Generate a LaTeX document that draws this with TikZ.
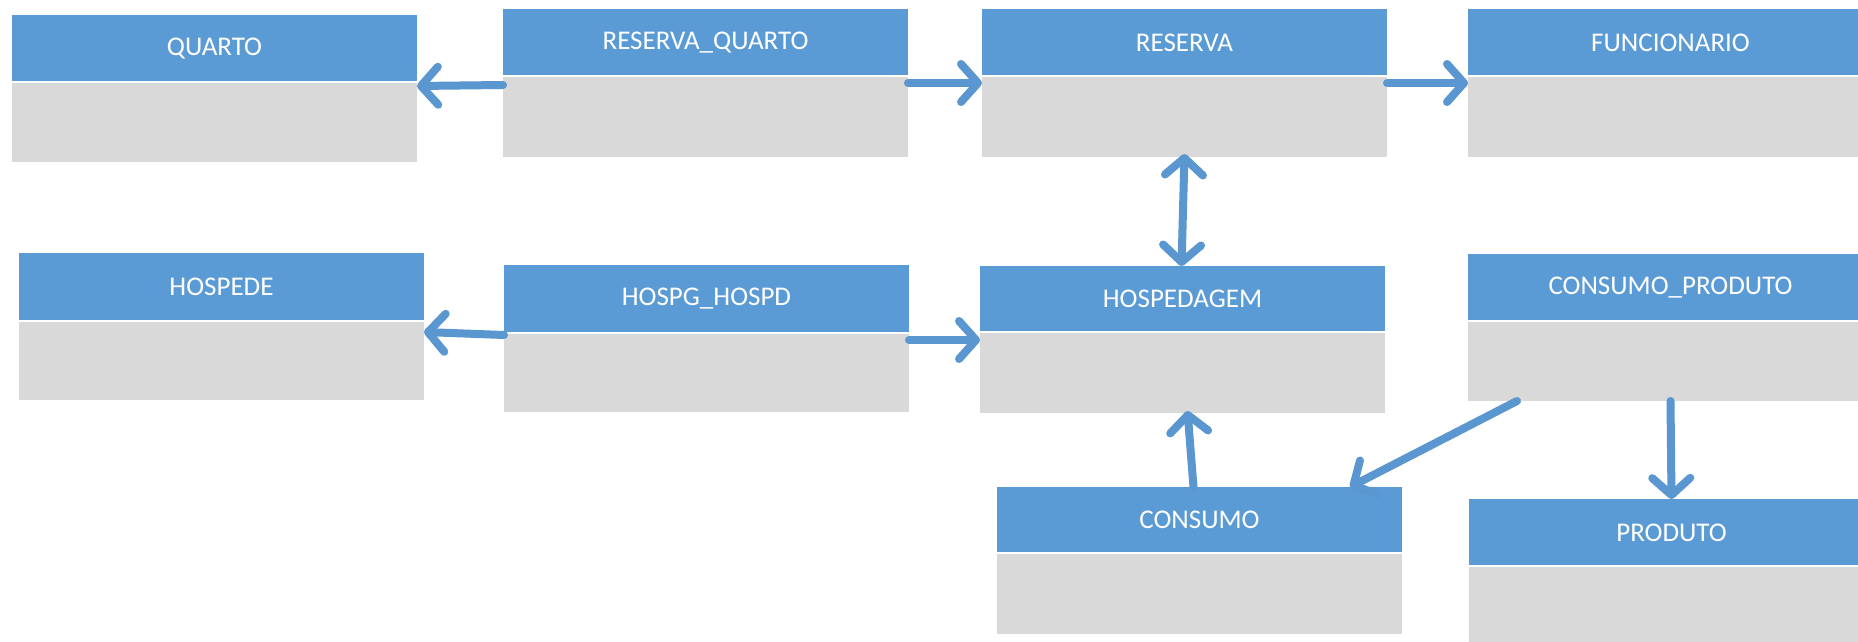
\documentclass[tikz,border=0pt]{standalone}
\usepackage{fontspec}
\setmainfont{Carlito}
\usetikzlibrary{arrows.meta}
\definecolor{hdr}{HTML}{5B9BD5}
\definecolor{bdy}{HTML}{D9D9D9}
\definecolor{arc}{HTML}{5A96D0}
\tikzset{
  tbl/.style={fill=bdy, draw=none, minimum width=405pt, anchor=north west, inner sep=0pt, outer sep=0pt},
  hdrbox/.style={fill=hdr, draw=none, minimum width=405pt, anchor=north west, inner sep=0pt, outer sep=0pt,
    text=white, font=\fontsize{27}{32}\selectfont},
  divline/.style={draw=white, line width=1.5pt},
  conn/.style={draw=arc, line width=8pt, line cap=round,
    -{Straight Barb[length=17pt,width=38pt,round]}},
  conn2/.style={draw=arc, line width=8pt, line cap=round,
    {Straight Barb[length=17pt,width=38pt,round]}-{Straight Barb[length=17pt,width=38pt,round]}},
}
% name, x left, y top, y divider, y bottom, label
\newcommand\tabela[6]{%
  \node[tbl, minimum height={#5-#3}] (#1) at (#2,#3) {};
  \node[hdrbox, minimum height={#4-#3}] (#1h) at (#2,#3) {#6};
  \draw[divline] (#1h.south west) -- (#1h.south east);
}
\begin{document}
\begin{tikzpicture}[x=1pt,y=-1pt]
\useasboundingbox (0,0) rectangle (1858,642);
\clip (0,0) rectangle (1858,642);
\fill[white] (0,0) rectangle (1858,642);

\tabela{quarto}{12}{15}{82}{162}{QUARTO}
\tabela{rq}{503}{9}{76}{157}{RESERVA\_QUARTO}
\tabela{reserva}{982}{9}{76}{157}{RESERVA}
\tabela{func}{1468}{9}{76}{157}{FUNCIONARIO}
\tabela{hospede}{19}{253}{321}{400}{HOSPEDE}
\tabela{hh}{504}{265}{333}{412}{HOSPG\_HOSPD}
\tabela{hospedagem}{980}{266}{332}{413}{HOSPEDAGEM}
\tabela{cp}{1468}{254}{321}{401}{CONSUMO\_PRODUTO}
\tabela{consumo}{997}{487}{553}{634}{CONSUMO}
\tabela{produto}{1469}{499}{566}{700}{PRODUTO}

\draw[conn] ([yshift=-9pt]rqh.south west) -- ([yshift=-4pt]quartoh.south east);
\draw[conn] ([yshift=-7pt]rqh.south east) -- ([yshift=-7pt]reservah.south west);
\draw[conn] ([yshift=-7pt]reservah.south east) -- ([yshift=-7pt]funch.south west);
\draw[conn2] ([yshift=3pt]reserva.south) -- ([xshift=-1pt]hospedagemh.north);
\draw[conn] ([yshift=-2pt]hhh.south west) -- ([yshift=-11pt]hospedeh.south east);
\draw[conn] ([yshift=-7pt]hhh.south east) -- ([yshift=-8pt]hospedagemh.south west);
\draw[conn] ([xshift=-6pt]consumoh.north) -- ([xshift=5pt,yshift=2pt]hospedagem.south);
\draw[conn] ([xshift=49pt]cp.south west) -- ([xshift=-52pt]consumoh.north east);
\draw[conn] (cp.south) -- (produtoh.north);
\end{tikzpicture}
\end{document}
